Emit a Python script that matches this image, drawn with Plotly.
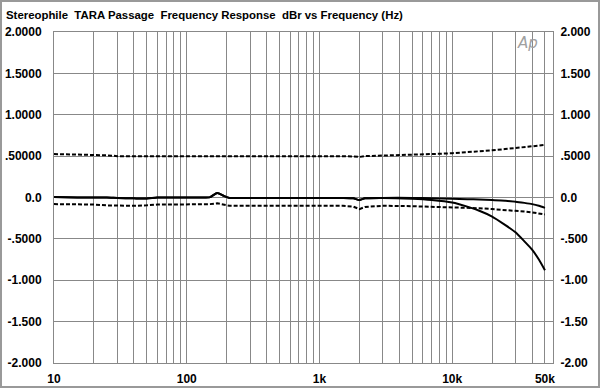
import math
import plotly.graph_objects as go

# ---- data ----
freq = [10, 15, 20, 25, 30, 40, 50, 60, 80, 100, 130, 150, 170, 190, 210, 300, 500,
        1000, 1500, 1800, 2000, 2200, 3000, 5000, 7000, 10000, 13000, 16000, 20000,
        25000, 30000, 35000, 40000, 45000, 50000]

solid_flat = [0.005, 0.0, 0.0, 0.0, -0.005, -0.01, -0.012, 0.0, 0.0, 0.0, 0.0, 0.005, 0.055, 0.02,
              -0.005, -0.005, -0.005, -0.005, -0.005, -0.01, -0.03, -0.01, -0.005, -0.005, -0.01,
              -0.015, -0.02, -0.025, -0.03, -0.04, -0.05, -0.065, -0.08, -0.1, -0.125]

solid_rolloff = [0.005, 0.0, 0.0, 0.0, -0.005, -0.01, -0.012, 0.0, 0.0, 0.0, 0.0, 0.005, 0.055, 0.02,
                 -0.005, -0.005, -0.005, -0.005, -0.005, -0.01, -0.03, -0.01, -0.005, -0.015, -0.03,
                 -0.06, -0.11, -0.16, -0.23, -0.33, -0.42, -0.53, -0.63, -0.75, -0.88]

dash_upper = [0.525, 0.522, 0.52, 0.51, 0.50, 0.50, 0.50, 0.505, 0.507, 0.507, 0.507, 0.507, 0.507,
              0.505, 0.50, 0.50, 0.50, 0.50, 0.50, 0.495, 0.49, 0.50, 0.505, 0.515, 0.525, 0.535,
              0.545, 0.555, 0.57, 0.585, 0.60, 0.61, 0.62, 0.63, 0.635]

dash_lower = [-0.08, -0.08, -0.085, -0.095, -0.1, -0.1, -0.095, -0.085, -0.085, -0.085, -0.085,
              -0.08, -0.07, -0.085, -0.1, -0.1, -0.1, -0.1, -0.1, -0.11, -0.14, -0.115, -0.1,
              -0.105, -0.11, -0.115, -0.12, -0.13, -0.14, -0.15, -0.158, -0.17, -0.18, -0.19, -0.205]

x_grid = [m * d for d in (10, 100, 1000, 10000) for m in range(1, 10) if m * d <= 50000]
x_labels = {10: "10", 100: "100", 1000: "1k", 10000: "10k", 50000: "50k"}
x_ticktext = [x_labels.get(v, "") for v in x_grid]

y_ticks = [2.0, 1.5, 1.0, 0.5, 0.0, -0.5, -1.0, -1.5, -2.0]
y_left_text = ["2.0000", "1.5000", "1.0000", ".50000", "0.0", "-.5000", "-1.000", "-1.500", "-2.000"]
y_right_text = ["2.000", "1.500", "1.000", ".5000", "0.0", "-.500", "-1.00", "-1.50", "-2.00"]

title_text = "Stereophile\u00a0\u00a0TARA Passage\u00a0\u00a0Frequency Response\u00a0\u00a0dBr vs Frequency (Hz)"

# ---- figure ----
W, H = 600, 388
ML, MR, MT, MB = 54, 47, 32, 25
PW, PH = W - ML - MR, H - MT - MB
font_family = "Liberation Sans, Arial, sans-serif"
bold12 = dict(family=font_family, size=12, color="black", weight="bold")

fig = go.Figure()
for ys in (dash_upper, dash_lower):
    fig.add_trace(go.Scatter(x=freq, y=ys, mode="lines",
                             line=dict(color="black", width=2, dash="4px,2px"),
                             hoverinfo="skip"))
for ys in (solid_flat, solid_rolloff):
    fig.add_trace(go.Scatter(x=freq, y=ys, mode="lines", line_shape="spline",
                             line=dict(color="black", width=2, smoothing=0.6), hoverinfo="skip"))
# invisible trace to instantiate the right axis
fig.add_trace(go.Scatter(x=freq[:1], y=[0], yaxis="y2", mode="markers",
                         marker=dict(opacity=0), hoverinfo="skip"))

fig.update_layout(
    width=W, height=H,
    margin=dict(l=ML, r=MR, t=MT, b=MB, autoexpand=False),
    paper_bgcolor="white", plot_bgcolor="white",
    showlegend=False,
    font=dict(family=font_family, size=12, color="black"),
    xaxis=dict(type="log", range=[math.log10(10), math.log10(57500)],
               tickvals=x_grid, ticktext=x_ticktext, automargin=False,
               showgrid=True, gridcolor="#888888", gridwidth=1,
               showline=True, linecolor="#888888", linewidth=1, mirror=True,
               ticks="outside", ticklen=5, tickcolor="rgba(0,0,0,0)",
               tickfont=bold12, zeroline=False),
    yaxis=dict(range=[-2, 2], tickvals=y_ticks, ticktext=y_left_text, automargin=False,
               showgrid=True, gridcolor="#888888", gridwidth=1,
               showline=True, linecolor="#888888", linewidth=1, mirror=True,
               ticks="outside", ticklen=9, tickcolor="rgba(0,0,0,0)",
               tickfont=bold12, zeroline=False),
    yaxis2=dict(range=[-2, 2], overlaying="y", side="right", anchor="x", automargin=False,
                tickvals=y_ticks, ticktext=y_right_text, showgrid=False,
                ticks="outside", ticklen=4, tickcolor="rgba(0,0,0,0)",
                tickfont=bold12, zeroline=False, showline=False),
    annotations=[
        dict(text=title_text, xref="paper", yref="paper",
             x=-(ML - 4) / PW, y=1 + (MT - 15) / PH,
             xanchor="left", yanchor="middle", showarrow=False,
             font=dict(family=font_family, size=11.4, color="black", weight="bold")),
        dict(text="Ap", xref="paper", yref="paper",
             x=(527 - ML) / PW, y=1 - (43 - MT) / PH,
             xanchor="center", yanchor="middle", showarrow=False,
             font=dict(family="DejaVu Sans, sans-serif", size=15, color="#a0a0a0",
                       style="italic", weight="normal")),
    ],
    shapes=[
        dict(type="rect", xref="paper", yref="paper",
             x0=-(ML - 1) / PW, x1=1 + (MR - 1) / PW,
             y0=-(MB - 1) / PH, y1=1 + (MT - 1) / PH,
             line=dict(color="#999999", width=2), layer="below"),
    ],
)

fig.write_html("out.html",
               config={"displayModeBar": False, "staticPlot": True},
               post_script="document.body.style.margin='0';document.body.style.overflow='hidden';")
